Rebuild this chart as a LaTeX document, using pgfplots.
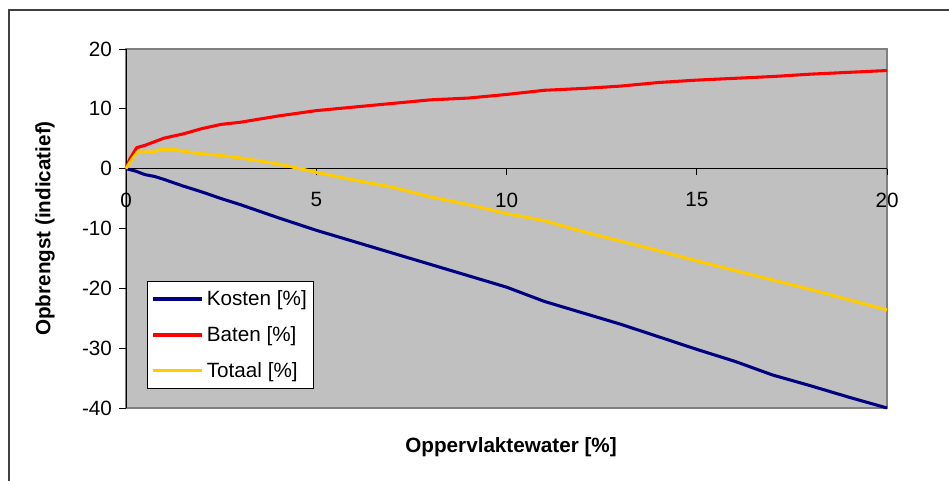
\documentclass[border=0pt]{standalone}
\usepackage{pgfplots}
\pgfplotsset{compat=1.18}
\usepackage{fontspec}
\setmainfont{Liberation Sans}

\definecolor{plotbg}{RGB}{192,192,192}
\definecolor{kosten}{RGB}{0,0,128}
\definecolor{baten}{RGB}{255,0,0}
\definecolor{totaal}{RGB}{255,204,0}

\begin{document}
\begin{tikzpicture}
\useasboundingbox (0pt,0pt) rectangle (711.75pt,360.75pt);
% outer chart frame (left and top edges)
\draw[line width=1pt, black!75] (6.75pt,0pt) -- (6.75pt,353.25pt) -- (711.75pt,353.25pt);
\begin{axis}[
  at={(94.5pt,54.75pt)}, anchor=south west,
  scale only axis,
  width=570.75pt, height=269.25pt,
  xmin=0, xmax=20, ymin=-40, ymax=20,
  axis x line*=middle,
  axis y line*=left,
  hide obscured x ticks=false,
  hide obscured y ticks=false,
  axis line style={black, line width=0.6pt},
  axis background/.style={fill=plotbg, draw=black!50, line width=1pt},
  xtick={0,5,10,15,20},
  ytick={-40,-30,...,20},
  tick align=outside,
  major tick length=5pt,
  tick style={black, line width=0.6pt},
  tick label style={font=\fontsize{15.5}{18}\selectfont},
  /pgf/number format/assume math mode=true,
  x tick label style={yshift=-9.5pt},
  y tick label style={xshift=-2pt},
  xlabel={Oppervlaktewater [\%]},
  ylabel={Opbrengst (indicatief)},
  label style={font=\fontsize{15.5}{18}\selectfont\bfseries},
  xlabel style={at={(axis description cs:0.506,-0.108)}, anchor=center},
  ylabel style={at={(axis description cs:-0.1064,0.5)}, anchor=center},
  legend style={
    at={(axis description cs:0.0276,0.053)}, anchor=south west,
    fill=white, draw=black, line width=0.6pt,
    font=\fontsize{15.5}{18}\selectfont,
    row sep=10.25pt, inner xsep=3pt, inner ysep=5pt,
    legend cell align=left,
  },
  legend image code/.code={\draw[#1, line width=2.6pt] (0pt,0pt) -- (37pt,0pt);},
  every axis plot/.append style={line width=2.3pt, line join=round},
  clip=false,
]
\addplot[kosten] coordinates {
 (0,0) (0.25,-0.4) (0.5,-1.0) (0.75,-1.3) (1,-1.8) (1.5,-2.9) (2,-3.9)
 (2.5,-5.0) (3,-6.0) (4,-8.2) (5,-10.3) (6,-12.2) (7,-14.1) (8,-16.0)
 (9,-17.9) (10,-19.8) (11,-22.2) (12,-24.1) (13,-26.0) (14,-28.1)
 (15,-30.2) (16,-32.2) (17,-34.5) (18,-36.3) (19,-38.2) (20,-40.0)
};
\addlegendentry{Kosten [\%]}
\addplot[baten] coordinates {
 (0,0) (0.1,1.6) (0.28,3.5) (0.5,3.9) (0.75,4.5) (1,5.1) (1.5,5.8) (2,6.7)
 (2.5,7.4) (3,7.75) (4,8.8) (5,9.7) (6,10.3) (7,10.9) (8,11.5)
 (9,11.8) (10,12.4) (11,13.1) (12,13.4) (13,13.8) (14,14.4)
 (15,14.8) (16,15.1) (17,15.4) (18,15.8) (19,16.1) (20,16.4)
};
\addlegendentry{Baten [\%]}
\addplot[totaal] coordinates {
 (0,0) (0.15,1.5) (0.3,2.8) (0.75,2.8) (0.9,3.2) (1.3,3.2) (1.5,2.9)
 (2,2.5) (2.5,2.2) (3,1.8) (3.5,1.3) (4,0.8) (4.5,0.1) (5,-0.6)
 (6,-1.9) (7,-3.1) (8,-4.7) (9,-6.0) (10,-7.5) (11,-8.7) (12,-10.5)
 (13,-12.1) (14,-13.7) (15,-15.4) (16,-17.0) (17,-18.6) (18,-20.2)
 (19,-21.9) (20,-23.6)
};
\addlegendentry{Totaal [\%]}
\end{axis}
\end{tikzpicture}
\end{document}
